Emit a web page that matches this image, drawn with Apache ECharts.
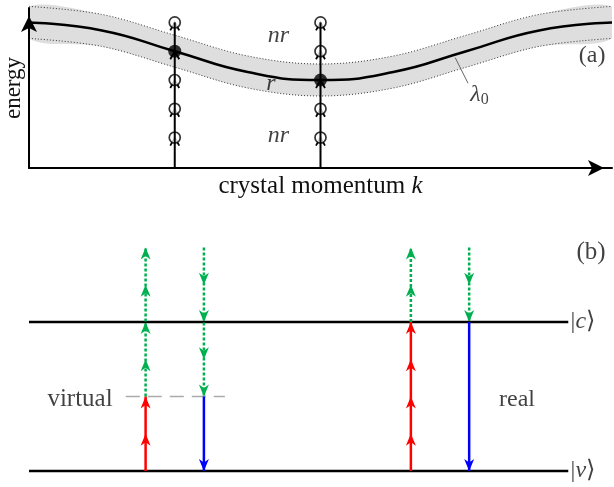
<!DOCTYPE html>
<html>
<head>
<meta charset="utf-8">
<script src="https://cdn.jsdelivr.net/npm/echarts@6/dist/echarts.min.js"></script>
<style>
html,body{margin:0;padding:0;background:#fff}
#main{width:614px;height:487px}
</style>
</head>
<body>
<div id="main"></div>
<script>
// ---- panel (a): band in k-space ----
var kPts       = [0, 0.125, 0.25, 0.375, 0.5, 0.625, 0.75, 0.875, 1];
var bandCenter = [0.91, 0.86, 0.73, 0.60, 0.55, 0.60, 0.73, 0.86, 0.91];
var bandUpper  = [1.01, 0.96, 0.83, 0.70, 0.65, 0.70, 0.83, 0.96, 1.01];
var bandLower  = [0.81, 0.76, 0.63, 0.50, 0.45, 0.50, 0.63, 0.76, 0.81];
var kCols      = [0.25, 0.5];
var levels     = [0.19, 0.37, 0.55, 0.73, 0.91];
var filledAt   = [0.73, 0.55];          // level sitting in the band, per column
var lambdaLead = [[0.731, 0.69], [0.753, 0.53]];

// ---- panel (b): transitions, energy in units of the gap ----
var levelV = 0, levelC = 1, levelVirtual = 0.5;
var lineEnd = 0.925;
var virtualSpan = [0.166, 0.336];
// [x, from, to]
var redUp     = [[0.2, 0, 0.5], [0.655, 0, 1]];
var blueDown  = [[0.3, 0.5, 0], [0.755, 1, 0]];
var greenUp   = [[0.2, 0.5, 1.5], [0.655, 1, 1.5]];
var greenDown = [[0.3, 1.5, 0.5], [0.755, 1.5, 1]];
// arrow heads (tip positions)
var redHeads       = [[0.2, 0.25], [0.2, 0.5], [0.655, 0.25], [0.655, 0.5], [0.655, 0.75], [0.655, 1]];
var greenUpHeads   = [[0.2, 0.75], [0.2, 1], [0.2, 1.25], [0.2, 1.5], [0.655, 1.25], [0.655, 1.5]];
var greenDownHeads = [[0.3, 1.25], [0.3, 1], [0.3, 0.75], [0.3, 0.5], [0.755, 1.25], [0.755, 1]];
var blueHeads      = [[0.3, 0], [0.755, 0]];

var FONT = "'Liberation Serif', 'DejaVu Serif', serif";
var RED = '#ff0000', BLUE = '#0000ff', GREEN = '#00b050';

var RICH = {
  i: {fontFamily: FONT, fontSize: 24, fontStyle: 'italic', color: '#111'},
  n: {fontFamily: FONT, fontSize: 24, color: '#111'},
  s: {fontFamily: FONT, fontSize: 16, color: '#111', padding: [10, 0, 0, 0]}
};

function lineSeries(gi, data, style) {
  return {type: 'line', xAxisIndex: gi, yAxisIndex: gi, data: data, symbol: 'none',
    silent: true, clip: false, lineStyle: style};
}

function heads(gi, data, color, dir, open) {
  return {
    type: 'custom', coordinateSystem: 'cartesian2d', xAxisIndex: gi, yAxisIndex: gi,
    data: data, silent: true, clip: false, encode: {x: 0, y: 1},
    renderItem: function (params, api) {
      var p = api.coord([api.value(0), api.value(1)]);
      var s = dir;  // 1 = pointing up, -1 = pointing down
      if (open) {
        return {type: 'polyline', shape: {points: [[p[0] - 4.5, p[1] + 8 * s], [p[0], p[1]], [p[0] + 4.5, p[1] + 8 * s]]},
          style: {stroke: color, lineWidth: 1.8, fill: null}};
      }
      return {type: 'polygon',
        shape: {points: [[p[0], p[1]], [p[0] + 5, p[1] + 12 * s], [p[0], p[1] + 8.5 * s], [p[0] - 5, p[1] + 12 * s]]},
        style: {fill: color}};
    }
  };
}

function texts(gi, items) {
  return {
    type: 'scatter', xAxisIndex: gi, yAxisIndex: gi, symbolSize: 0, silent: true, z: 10,
    data: items.map(function (t) {
      return {value: [t[0], t[1]], label: {show: true, position: 'inside', formatter: t[2],
        align: t[3] || 'center', fontFamily: FONT, fontSize: t[4] || 24, color: '#111', rich: RICH}};
    })
  };
}

var series = [];

// band: filled region between the two edges, dotted edges
series.push({
  type: 'custom', coordinateSystem: 'cartesian2d', xAxisIndex: 0, yAxisIndex: 0,
  data: [[0, 0]], silent: true, clip: false, encode: {x: 0, y: 1},
  renderItem: function (params, api) {
    var up = kPts.map(function (k, i) { return api.coord([k, bandUpper[i]]); });
    var lo = kPts.map(function (k, i) { return api.coord([k, bandLower[i]]); });
    return {type: 'group', children: [
      {type: 'polygon', shape: {points: up.concat(lo.slice().reverse()), smooth: 0.35,
        smoothConstraint: [[up[0][0], 0], [up[up.length - 1][0], 487]]},
        style: {fill: '#dedede', stroke: null}},
      {type: 'polyline', shape: {points: up, smooth: 0.35}, style: {stroke: '#333', lineWidth: 1, lineDash: [1, 2], fill: null}},
      {type: 'polyline', shape: {points: lo, smooth: 0.35}, style: {stroke: '#333', lineWidth: 1, lineDash: [1, 2], fill: null}}
    ]};
  }
});
var centerLine = lineSeries(0, kPts.map(function (k, i) { return [k, bandCenter[i]]; }), {color: '#000', width: 2.5});
centerLine.smooth = true;
series.push(centerLine);
series.push(lineSeries(0, lambdaLead, {color: '#666', width: 1}));

kCols.forEach(function (k) {
  series.push(lineSeries(0, [[k, 0], [k, levels[levels.length - 1]]], {color: '#000', width: 2}));
});

var openPts = [], filledPts = [], chevrons = [];
kCols.forEach(function (k, c) {
  levels.forEach(function (e) {
    chevrons.push([k, e]);
    if (e === filledAt[c]) filledPts.push([k, e]); else openPts.push([k, e]);
  });
});
series.push({type: 'scatter', xAxisIndex: 0, yAxisIndex: 0, data: openPts, symbol: 'circle', symbolSize: 11, silent: true,
  itemStyle: {color: '#fff', borderColor: '#000', borderWidth: 1.7}});
series.push(heads(0, chevrons, '#000', 1, true));
series.push({type: 'scatter', xAxisIndex: 0, yAxisIndex: 0, data: filledPts, symbol: 'circle', symbolSize: 13, silent: true,
  itemStyle: {color: '#000'}});

series.push(texts(0, [
  [0.428, 0.83, '{i|nr}'],
  [0.415, 0.53, '{i|r}'],
  [0.428, 0.203, '{i|nr}'],
  [0.757, 0.456, '{i|λ}{s|0}', 'left'],
  [0.966, 0.70, '(a)', 'center', 24]
]));

// panel (b)
series.push(lineSeries(1, [[0, levelC], [lineEnd, levelC]], {color: '#000', width: 2.5}));
series.push(lineSeries(1, [[0, levelV], [lineEnd, levelV]], {color: '#000', width: 2.5}));
series.push(lineSeries(1, [[virtualSpan[0], levelVirtual], [virtualSpan[1], levelVirtual]], {color: '#aaa', width: 1.5, type: [14, 8]}));

function segs(list, style) {
  list.forEach(function (s) { series.push(lineSeries(1, [[s[0], s[1]], [s[0], s[2]]], style)); });
}
segs(redUp, {color: RED, width: 2.5});
segs(blueDown, {color: BLUE, width: 2.5});
segs(greenUp, {color: GREEN, width: 2.5, type: [3, 2]});
segs(greenDown, {color: GREEN, width: 2.5, type: [3, 2]});

series.push(heads(1, redHeads, RED, 1));
series.push(heads(1, greenUpHeads, GREEN, 1));
series.push(heads(1, greenDownHeads, GREEN, -1));
series.push(heads(1, blueHeads, BLUE, -1));

series.push(texts(1, [
  [0.0875, 0.483, 'virtual', 'center', 25],
  [0.837, 0.477, 'real', 'center', 24],
  [0.929, levelC, '{n||}{i|c}{n|⟩}', 'left'],
  [0.929, levelV, '{n||}{i|v}{n|⟩}', 'left'],
  [0.964, 1.47, '(b)', 'center', 25]
]));

var chart = echarts.init(document.getElementById('main'));
chart.setOption({
  animation: false,
  backgroundColor: '#fff',
  grid: [
    {left: 29, right: 2, top: 8, height: 160, outerBoundsMode: 'none'},
    {left: 29, right: 2, top: 232.6, height: 238.4, outerBoundsMode: 'none'}
  ],
  xAxis: [
    {gridIndex: 0, type: 'value', min: 0, max: 1, z: 5,
      axisLine: {show: true, onZero: false, symbol: ['none', 'arrow'], symbolSize: [12, 16], symbolOffset: [0, -8],
        lineStyle: {color: '#000', width: 2}},
      axisTick: {show: false}, axisLabel: {show: false}, splitLine: {show: false},
      name: 'crystal momentum {i|k}', nameLocation: 'middle', nameGap: 6,
      nameTextStyle: {fontFamily: FONT, fontSize: 25, color: '#111',
        rich: {i: {fontFamily: FONT, fontSize: 25, fontStyle: 'italic', color: '#111'}}}},
    {gridIndex: 1, type: 'value', min: 0, max: 1, show: false}
  ],
  yAxis: [
    {gridIndex: 0, type: 'value', min: 0, max: 1, z: 5,
      axisLine: {show: true, onZero: false, symbol: ['none', 'arrow'], symbolSize: [12, 16], symbolOffset: [0, -8],
        lineStyle: {color: '#000', width: 2}},
      axisTick: {show: false}, axisLabel: {show: false}, splitLine: {show: false},
      name: 'energy', nameLocation: 'middle', nameGap: 4,
      nameTextStyle: {fontFamily: FONT, fontSize: 23, color: '#111'}},
    {gridIndex: 1, type: 'value', min: 0, max: 1.6, show: false}
  ],
  series: series
});
</script>
</body>
</html>
